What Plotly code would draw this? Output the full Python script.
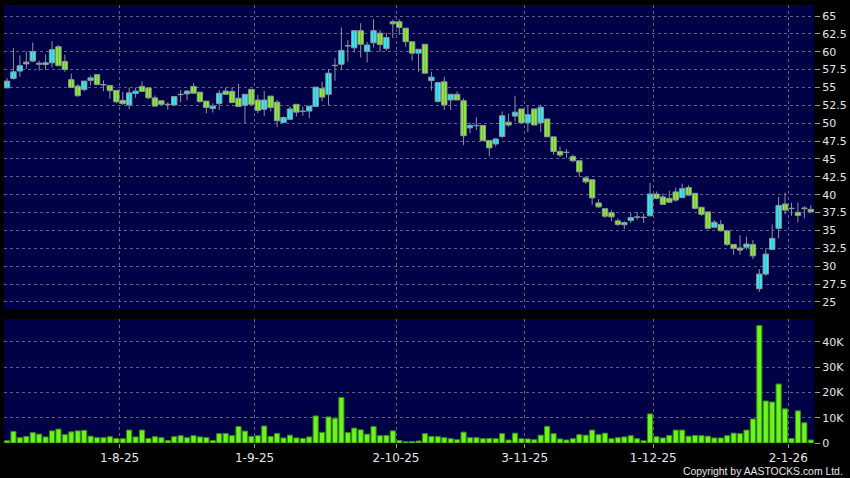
import plotly.graph_objects as go

# ---- data ----
opens = [54.95, 56.25, 57.3, 58.55, 58.7, 58.4, 58.2, 58.45, 60.7, 58.65,
         56.1, 55.2, 54.7, 56.0, 56.8, 55.35, 55.3, 54.6, 53.2, 52.55,
         54.15, 55.15, 54.95, 53.55, 53.15, 52.6, 52.55, 54.0, 54.1, 55.15,
         54.35, 53.1, 52.05, 52.75, 54.5, 54.45, 53.5, 52.5, 54.75, 53.25,
         51.95, 53.8, 52.95, 50.1, 50.55, 52.65, 51.65, 51.7, 52.35, 54.85,
         54.05, 58.05, 58.25, 60.8, 60.55, 62.95, 60.05, 61.25, 62.6, 60.45,
         64.2, 64.2, 63.3, 61.4, 59.8, 61.05, 55.95, 53.05, 55.8, 53.25,
         54.05, 53.15, 49.35, 49.65, 49.7, 47.6, 47.1, 48.15, 50.15, 51.0,
         52.0, 50.05, 52.0, 50.05, 50.6, 48.1, 46.05, 45.9, 45.35, 44.75,
         42.35, 42.1, 38.85, 38.05, 37.5, 36.35, 35.8, 36.4, 36.85, 36.8,
         37.05, 40.1, 39.7, 39.5, 40.4, 39.6, 41.0, 40.2, 38.25, 37.6,
         35.45, 35.85, 34.95, 33.05, 32.55, 32.65, 33.05, 26.85, 28.9, 32.35,
         35.3, 38.7, 38.05, 37.55, 38.15, 37.95]
highs = [56.3, 60.5, 59.5, 60.05, 61.3, 58.75, 59.6, 61.5, 60.9, 59.6,
         56.95, 55.45, 55.9, 56.7, 56.8, 56.0, 55.3, 54.6, 54.4, 55.0,
         55.0, 55.9, 54.95, 53.9, 53.2, 52.95, 53.8, 54.65, 54.65, 55.6,
         54.35, 53.1, 52.8, 54.65, 55.0, 55.0, 55.5, 54.05, 54.75, 53.95,
         54.5, 53.8, 53.25, 50.95, 52.35, 52.65, 52.35, 52.4, 55.05, 55.8,
         57.55, 59.1, 63.4, 61.65, 62.95, 64.0, 61.4, 64.55, 63.05, 62.65,
         64.5, 64.55, 63.3, 61.4, 60.35, 61.05, 57.2, 55.8, 56.5, 54.05,
         54.45, 53.5, 50.1, 50.85, 49.7, 47.6, 47.95, 51.65, 51.35, 53.85,
         52.0, 52.45, 52.0, 52.6, 50.6, 48.1, 46.75, 46.4, 45.6, 44.75,
         42.6, 42.1, 39.4, 38.05, 37.85, 36.7, 36.3, 37.45, 37.6, 37.35,
         41.65, 40.45, 40.2, 40.55, 41.0, 41.55, 41.35, 40.2, 38.25, 37.6,
         36.45, 36.45, 34.95, 33.05, 34.35, 34.15, 33.65, 29.6, 32.5, 35.85,
         39.7, 40.3, 38.9, 38.9, 38.4, 38.55]
lows = [54.9, 56.1, 56.5, 57.6, 58.55, 57.35, 57.45, 57.8, 58.0, 57.2,
        54.9, 53.7, 54.5, 55.3, 55.3, 54.5, 53.4, 52.8, 52.55, 51.95,
        53.55, 54.4, 53.4, 52.3, 52.6, 51.9, 52.5, 52.9, 53.2, 54.2,
        52.8, 51.4, 51.5, 51.85, 53.95, 52.8, 52.25, 50.0, 52.55, 51.4,
        51.05, 51.65, 49.45, 50.0, 50.45, 50.95, 51.05, 50.7, 52.3, 53.05,
        52.55, 55.95, 57.55, 58.6, 59.9, 59.2, 58.5, 60.6, 60.0, 60.15,
        61.9, 62.35, 60.7, 58.75, 57.2, 57.0, 54.55, 52.9, 51.85, 51.85,
        53.25, 46.95, 48.6, 49.05, 47.55, 45.35, 46.75, 47.9, 49.55, 50.25,
        50.05, 48.75, 49.75, 48.75, 48.1, 45.6, 45.25, 45.15, 44.55, 42.5,
        41.55, 38.6, 38.15, 36.75, 36.3, 35.6, 35.2, 36.05, 36.5, 36.05,
        37.0, 39.35, 38.55, 38.8, 39.0, 39.5, 39.8, 37.95, 37.0, 35.15,
        35.3, 34.85, 32.85, 31.6, 31.6, 32.3, 31.0, 26.4, 28.65, 32.3,
        33.9, 37.25, 37.05, 36.15, 36.7, 37.5]
closes = [55.9, 57.2, 58.05, 58.3, 60.05, 58.25, 58.45, 60.3, 58.05, 57.5,
          55.0, 53.85, 55.9, 56.35, 55.4, 55.35, 54.55, 53.0, 52.75, 54.25,
          54.5, 54.45, 53.55, 52.4, 52.65, 52.6, 53.75, 54.0, 54.5, 54.2,
          53.05, 52.2, 52.4, 54.2, 54.05, 52.9, 52.35, 54.05, 52.65, 51.8,
          53.25, 52.2, 50.35, 50.8, 52.0, 51.55, 51.65, 52.4, 55.05, 53.65,
          57.0, 58.05, 60.2, 60.8, 62.95, 61.05, 60.95, 62.95, 61.0, 62.0,
          63.9, 63.4, 61.4, 59.8, 60.35, 57.0, 56.45, 55.7, 52.55, 54.05,
          53.25, 48.25, 49.7, 49.65, 47.55, 46.55, 47.8, 51.05, 49.75, 51.55,
          50.05, 51.2, 49.75, 52.25, 48.1, 46.05, 45.55, 45.9, 44.75, 43.2,
          41.8, 39.55, 38.3, 37.0, 36.9, 35.85, 36.1, 36.8, 36.85, 36.8,
          40.1, 39.5, 38.65, 38.95, 39.25, 40.85, 39.95, 38.1, 37.25, 35.3,
          36.15, 34.95, 33.05, 32.5, 32.25, 33.1, 31.45, 28.9, 31.7, 33.9,
          38.5, 37.85, 38.05, 37.1, 38.05, 37.6]
volumes = [900, 4600, 2100, 2600, 4100, 3500, 2400, 4800, 5500, 3300,
           4400, 4800, 5000, 2700, 2100, 2100, 2500, 1800, 1700, 5100,
           2400, 5100, 1800, 2500, 2100, 1000, 2500, 2900, 2100, 2900,
           2400, 2200, 1000, 3700, 3800, 2900, 6500, 4700, 2600, 2900,
           6700, 2600, 3800, 2000, 3100, 2000, 1800, 2400, 10700, 4200,
           10300, 9700, 18000, 4100, 5900, 5200, 3500, 6500, 2900, 3000,
           4800, 1000, 500, 650, 800, 3700, 2600, 2500, 2100, 1700,
           1300, 4300, 2100, 2100, 1700, 1800, 1700, 3700, 1200, 3900,
           1700, 1600, 1300, 3100, 6600, 3700, 1600, 1200, 1700, 3300,
           3100, 5100, 3300, 3900, 1700, 2100, 2400, 2900, 1700, 900,
           11500, 2500, 2000, 3000, 5100, 5100, 2700, 3000, 2900, 2700,
           2000, 2000, 2900, 3900, 3700, 5100, 9500, 46400, 16600, 16200,
           23300, 13500, 1800, 12700, 8000, 1200]
day_index = list(range(len(closes)))

# month boundaries (gridline / label positions, in trading-day index units)
month_ticks = [17.5, 38.5, 60.5, 80.5, 100.5, 121.5]
month_labels = ["1-8-25", "1-9-25", "2-10-25", "3-11-25", "1-12-25", "2-1-26"]
price_ticks = [25, 27.5, 30, 32.5, 35, 37.5, 40, 42.5, 45, 47.5, 50, 52.5, 55, 57.5, 60, 62.5, 65]
vol_ticks = [0, 10000, 20000, 30000, 40000]
vol_labels = ["0", "10K", "20K", "30K", "40K"]

# ---- style ----
NAVY = "#000046"
GRID = "#5e5e8c"
TXT = "#e6e6e6"
CYAN = "#22f4ff"
GREEN = "#86fa16"
WICK = "#8a949e"
DOJI = "#9aa3ad"

# candle bodies / wicks derived from the OHLC lists
body_base = [min(o, c) for o, c in zip(opens, closes)]
body_len = [max(abs(c - o), 0.06) for o, c in zip(opens, closes)]
body_col = [CYAN if c > o else (GREEN if c < o else DOJI) for o, c in zip(opens, closes)]
wick_x, wick_y = [], []
for i, h, l in zip(day_index, highs, lows):
    wick_x += [i, i, None]
    wick_y += [l, h, None]

fig = go.Figure()
fig.add_trace(go.Scatter(x=wick_x, y=wick_y, mode="lines", line=dict(color=WICK, width=1),
                         xaxis="x", yaxis="y", showlegend=False, hoverinfo="skip"))
fig.add_trace(go.Bar(x=day_index, y=body_len, base=body_base, width=0.84,
                     marker=dict(color=body_col, line=dict(color=WICK, width=1)),
                     xaxis="x", yaxis="y", showlegend=False, hoverinfo="skip"))
fig.add_trace(go.Bar(x=day_index, y=volumes, width=0.8,
                     marker=dict(color="#6af51e", line=dict(color="#3a8a12", width=1)),
                     xaxis="x2", yaxis="y2", showlegend=False, hoverinfo="skip"))

xr = [-0.47, 125.5]
common_x = dict(range=xr, tickvals=month_ticks, showgrid=True, gridcolor=GRID,
                griddash="3px,3px", gridwidth=1, zeroline=False, showline=False,
                fixedrange=True)
fig.update_layout(
    width=850, height=478,
    margin=dict(l=4, r=36, t=5, b=35),
    paper_bgcolor="black", plot_bgcolor=NAVY,
    font=dict(family="DejaVu Sans, Verdana, sans-serif", color=TXT, size=11),
    barmode="overlay",
    xaxis=dict(common_x, anchor="y", showticklabels=False, ticks=""),
    yaxis=dict(domain=[0.3037, 1], range=[23.88, 66.54], side="right",
               tickvals=price_ticks, ticks="outside", ticklen=5, tickcolor="#9a9a9a",
               showgrid=True, gridcolor=GRID, griddash="3px,3px", zeroline=False,
               tickfont=dict(size=11, color=TXT), fixedrange=True),
    xaxis2=dict(common_x, anchor="y2", ticktext=month_labels, ticks="outside",
                ticklen=4, tickcolor="#9a9a9a", tickfont=dict(size=12, color=TXT)),
    yaxis2=dict(domain=[0, 0.2831], range=[0, 49000], side="right",
                tickvals=vol_ticks, ticktext=vol_labels, ticks="outside", ticklen=5,
                tickcolor="#9a9a9a", showgrid=True, gridcolor=GRID, griddash="3px,3px",
                zeroline=False, tickfont=dict(size=11, color=TXT), fixedrange=True),
    annotations=[dict(text="Copyright by AASTOCKS.com Ltd.", xref="paper", yref="paper",
                      x=1.038, y=-0.064, xanchor="right", yanchor="middle", showarrow=False,
                      font=dict(family="Liberation Sans, Arial, sans-serif",
                                size=10.4, color=TXT))],
)
fig.write_html("out.html", config={"displayModeBar": False},
               post_script="document.body.style.margin='0';document.body.style.background='black';")
